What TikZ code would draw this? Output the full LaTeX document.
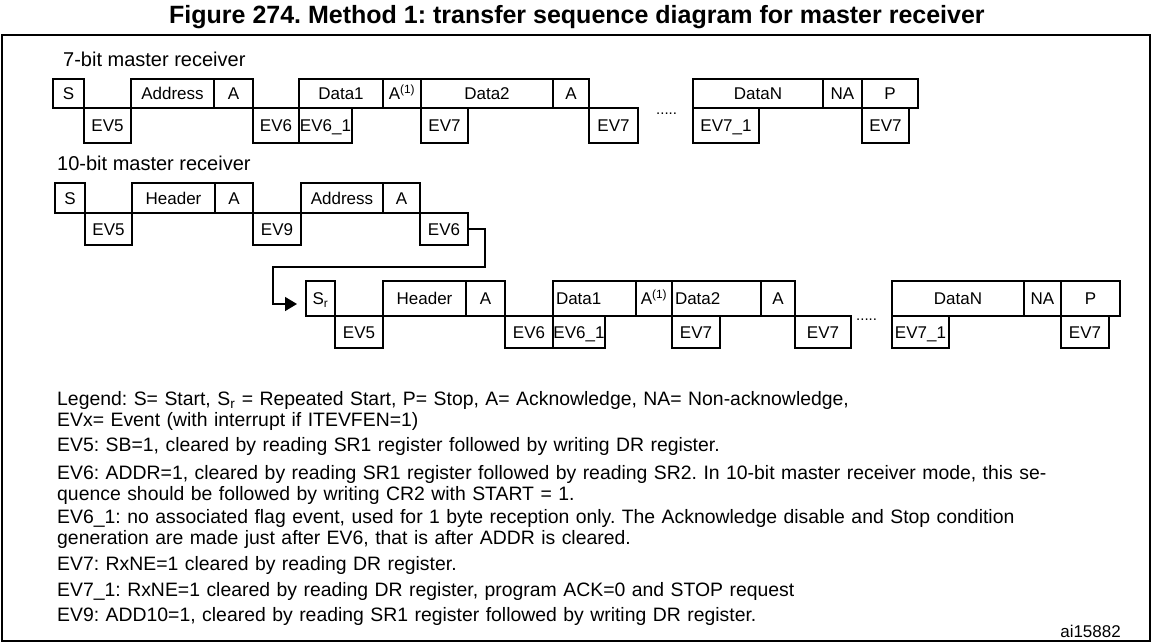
\documentclass[tikz,border=0pt]{standalone}
\usepackage{fontspec}
\setmainfont{Liberation Sans}
\usetikzlibrary{arrows.meta,positioning}
\frenchspacing

\begin{document}
\begin{tikzpicture}[x = 1pt, y = -1pt,
		box/.style = {draw, line width = 1.6pt, anchor = north west, outer sep = 0pt, inner sep = 0pt, text height = 12pt, text depth = 0pt, font = \fontsize{17}{19}\selectfont},
		lbox/.style = {box, align = left, inner xsep = 3pt, text width = #1},
		section/.style = {anchor = base west, inner sep = 0pt, font = \fontsize{20}{22}\selectfont},
		legtext/.style = {anchor = base west, inner sep = 0pt, align = left, text width = 1080pt, font = \fontsize{19.4}{21}\selectfont},
		dots/.style = {anchor = base west, inner sep = 0pt, font = \fontsize{15}{17}\selectfont}]
		\useasboundingbox (0, 0) rectangle (1153, 643);
		% Title and frame
		\node[font = \bfseries\fontsize{25}{27}\selectfont] at (577, 17) (title) {Figure 274. Method 1: transfer sequence diagram for master receiver};
		\draw[line width = 1.6pt] (2, 35) rectangle (1150, 641);
		% 7-bit master receiver
		\node[section] at (63, 66) (sec7) {7-bit master receiver};
		\begin{scope}[fld/.style = {box, minimum height = 29, minimum width = #1}, evt/.style = {box, minimum height = 35, minimum width = #1}]
			\node[fld = 31] at (53, 79) (s7) {S};
			\node[fld = 83] at (131, 79) (addr7) {Address};
			\node[fld = 39] at (214, 79) (ack7) {A};
			\node[fld = 84] at (299, 79) (dataI7) {Data1};
			\node[fld = 38] at (383, 79) (ackI7) {A\textsuperscript{(1)}};
			\node[fld = 132] at (421, 79) (dataII7) {Data2};
			\node[fld = 36] at (553, 79) (ackII7) {A};
			\node[fld = 130] at (693, 79) (dataN7) {DataN};
			\node[fld = 39] at (823, 79) (nack7) {NA};
			\node[fld = 56] at (862, 79) (stop7) {P};
			\node[evt = 47] at (84, 108) (evV7) {EV5};
			\node[evt = 46] at (253, 108) (evVI7) {EV6};
			\node[evt = 53] at (299, 108) (evVIa7) {EV6\_1};
			\node[evt = 47] at (421, 108) (evVII7) {EV7};
			\node[evt = 49] at (589, 108) (evVIIb7) {EV7};
			\node[evt = 66] at (693, 108) (evVIIa7) {EV7\_1};
			\node[evt = 47] at (862, 108) (evVIIc7) {EV7};
		\end{scope}
		\node[dots] at (656, 114) (gap7) {.....};
		% 10-bit master receiver, first part
		\node[section] at (57, 170) (sec10) {10-bit master receiver};
		\begin{scope}[fld/.style = {box, minimum height = 30, minimum width = #1}, evt/.style = {box, minimum height = 32, minimum width = #1}]
			\node[fld = 30] at (55, 183) (s10) {S};
			\node[fld = 83] at (132, 183) (head10) {Header};
			\node[fld = 38] at (215, 183) (ack10) {A};
			\node[fld = 82] at (301, 183) (addr10) {Address};
			\node[fld = 37] at (383, 183) (ackb10) {A};
			\node[evt = 47] at (85, 213) (evV10) {EV5};
			\node[evt = 48] at (253, 213) (evIX10) {EV9};
			\node[evt = 48] at (420, 213) (evVI10) {EV6};
		\end{scope}
		% 10-bit master receiver, after repeated start
		\begin{scope}[fld/.style = {box, minimum height = 35, minimum width = #1}, evt/.style = {box, minimum height = 32, minimum width = #1}]
			\node[fld = 29] at (306, 281) (sr) {S\textsubscript{r}};
			\node[fld = 83] at (383, 281) (headr) {Header};
			\node[fld = 39] at (466, 281) (ackr) {A};
			\node[fld = 83, lbox = 77] at (553, 281) (dataIr) {Data1};
			\node[fld = 36] at (636, 281) (ackIr) {A\textsuperscript{(1)}};
			\node[fld = 89, lbox = 83] at (672, 281) (dataIIr) {Data2};
			\node[fld = 34] at (761, 281) (ackIIr) {A};
			\node[fld = 132] at (892, 281) (dataNr) {DataN};
			\node[fld = 37] at (1024, 281) (nackr) {NA};
			\node[fld = 59] at (1061, 281) (stopr) {P};
			\node[evt = 48] at (335, 316) (evVr) {EV5};
			\node[evt = 48] at (505, 316) (evVIr) {EV6};
			\node[evt = 52] at (553, 316) (evVIar) {EV6\_1};
			\node[evt = 48] at (672, 316) (evVIIr) {EV7};
			\node[evt = 56] at (795, 316) (evVIIbr) {EV7};
			\node[evt = 57] at (892, 316) (evVIIar) {EV7\_1};
			\node[evt = 48] at (1061, 316) (evVIIcr) {EV7};
		\end{scope}
		\node[dots] at (856, 320) (gapr) {.....};
		% Link to the repeated start
		\coordinate (srin) at (297, 304);
		\draw[line width = 1.5pt, -{Triangle[length = 12pt, width = 14pt]}] (evVI10.east) -| (485, 267) -| (273, 304) -- (srin);
		% Legend
		\node[legtext] at (57, 405) (leg) {Legend: S= Start, S\textsubscript{r} = Repeated Start, P= Stop, A= Acknowledge, NA= Non-acknowledge,\\EVx= Event (with interrupt if ITEVFEN=1)};
		\node[legtext] at (57, 451) (legV) {EV5: SB=1, cleared by reading SR1 register followed by writing DR register.};
		\node[legtext] at (57, 479) (legVI) {EV6: ADDR=1, cleared by reading SR1 register followed by reading SR2. In 10-bit master receiver mode, this se-\\quence should be followed by writing CR2 with START = 1.};
		\node[legtext] at (57, 523) (legVIa) {EV6\_1: no associated flag event, used for 1 byte reception only. The Acknowledge disable and Stop condition\\generation are made just after EV6, that is after ADDR is cleared.};
		\node[legtext] at (57, 570) (legVII) {EV7: RxNE=1 cleared by reading DR register.};
		\node[legtext] at (57, 596) (legVIIa) {EV7\_1: RxNE=1 cleared by reading DR register, program ACK=0 and STOP request};
		\node[legtext] at (57, 621) (legIX) {EV9: ADD10=1, cleared by reading SR1 register followed by writing DR register.};
		\node[anchor = base east, inner sep = 0pt, font = \fontsize{17}{19}\selectfont] at (1121, 637) (ref) {ai15882};
	\end{tikzpicture}
\end{document}
